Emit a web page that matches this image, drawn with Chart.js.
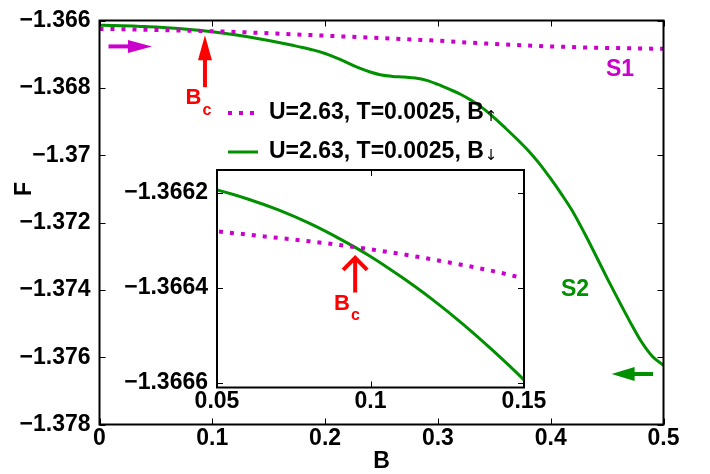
<!DOCTYPE html>
<html><head><meta charset="utf-8">
<script src="https://cdn.jsdelivr.net/npm/chart.js@4"></script>
<style>
html,body{margin:0;padding:0;background:#fff;}
#wrap{position:relative;width:710px;height:474px;background:#fff;}
#wrap canvas{position:absolute;left:0;top:0;}
#inset{pointer-events:none;}
</style></head><body>
<div id="wrap"><canvas id="main" width="710" height="474"></canvas><canvas id="inset" width="710" height="474"></canvas></div>
<script>
// ---- data ----
const fieldB = [0.00,0.01,0.02,0.03,0.04,0.05,0.06,0.07,0.08,0.09,0.10,0.11,0.12,0.13,0.14,0.15,0.16,0.17,0.18,0.19,0.20,0.21,0.22,0.23,0.24,0.25,0.26,0.27,0.28,0.29,0.30,0.31,0.32,0.33,0.34,0.35,0.36,0.37,0.38,0.39,0.40,0.41,0.42,0.43,0.44,0.45,0.46,0.47,0.48,0.49,0.50];
const freeEnergyUp = [-1.36625,-1.366254,-1.366259,-1.366265,-1.366272,-1.366281,-1.366288,-1.366295,-1.366302,-1.36631,-1.366319,-1.366329,-1.36634,-1.366352,-1.366365,-1.36638,-1.366394,-1.366408,-1.366422,-1.366436,-1.36645,-1.366465,-1.36648,-1.366495,-1.36651,-1.366525,-1.36654,-1.366555,-1.36657,-1.366585,-1.3666,-1.36662,-1.36664,-1.36666,-1.36668,-1.3667,-1.366715,-1.36673,-1.366745,-1.36676,-1.36677,-1.36678,-1.36679,-1.3668,-1.366808,-1.366815,-1.36682,-1.366826,-1.366831,-1.366836,-1.36684];
const freeEnergyDown = [-1.36614,-1.366147,-1.366155,-1.366166,-1.36618,-1.366194,-1.366213,-1.366236,-1.366264,-1.366297,-1.366334,-1.366377,-1.366424,-1.366476,-1.366533,-1.366594,-1.36666,-1.36673,-1.3668,-1.36688,-1.36698,-1.36711,-1.36726,-1.36741,-1.36753,-1.36762,-1.36766,-1.36768,-1.36771,-1.36778,-1.3679,-1.36804,-1.36819,-1.36838,-1.36861,-1.36889,-1.3692,-1.36952,-1.36986,-1.37025,-1.3707,-1.37118,-1.3717,-1.37232,-1.37298,-1.37365,-1.3743,-1.37493,-1.37552,-1.37597,-1.37624];
const seriesLabels = ['U=2.63, T=0.0025, B', 'U=2.63, T=0.0025, B'];
const seriesSubscripts = ['\u2191', '\u2193'];
const mainXTicks = [0, 0.1, 0.2, 0.3, 0.4, 0.5];
const mainXTickLabels = ['0', '0.1', '0.2', '0.3', '0.4', '0.5'];
const mainYTicks = [-1.378, -1.376, -1.374, -1.372, -1.37, -1.368, -1.366];
const mainYTickLabels = ['\u22121.378', '\u22121.376', '\u22121.374', '\u22121.372', '\u22121.37', '\u22121.368', '\u22121.366'];
const insetXTicks = [0.05, 0.1, 0.15];
const insetXTickLabels = ['0.05', '0.1', '0.15'];
const insetYTicks = [-1.3666, -1.3664, -1.3662];
const insetYTickLabels = ['\u22121.3666', '\u22121.3664', '\u22121.3662'];

// ---- styling ----
const MAG = '#cc00cc', GRN = '#009000', RED = '#ff0000';
const FONT = '"Liberation Sans", Arial, Helvetica, sans-serif';
const tickFont = {family: FONT, size: 23, weight: 'bold', lineHeight: 1};

function pts(ys) { return fieldB.map((b, i) => ({x: b, y: ys[i]})); }

function makeDatasets(clip) {
  return [
    {label: seriesLabels[0] + seriesSubscripts[0], data: pts(freeEnergyUp), borderColor: MAG, borderWidth: 4,
     borderDash: [4, 7], borderCapStyle: 'butt', pointRadius: 0, cubicInterpolationMode: 'monotone', clip: clip},
    {label: seriesLabels[1] + seriesSubscripts[1], data: pts(freeEnergyDown), borderColor: GRN, borderWidth: 3,
     pointRadius: 0, cubicInterpolationMode: 'monotone', clip: clip}
  ];
}

function frameAndTicks(chart, xt, yt, len) {
  const {ctx, chartArea: a, scales: {x, y}} = chart;
  ctx.save();
  ctx.strokeStyle = '#000';
  ctx.lineWidth = 1;
  ctx.beginPath();
  xt.forEach(v => {
    const p = Math.round(x.getPixelForValue(v)) + 0.5;
    ctx.moveTo(p, a.bottom); ctx.lineTo(p, a.bottom - len);
    ctx.moveTo(p, a.top); ctx.lineTo(p, a.top + len);
  });
  yt.forEach(v => {
    const p = Math.round(y.getPixelForValue(v)) + 0.5;
    ctx.moveTo(a.left, p); ctx.lineTo(a.left + len, p);
    ctx.moveTo(a.right, p); ctx.lineTo(a.right - len, p);
  });
  ctx.stroke();
  ctx.lineWidth = 2;
  ctx.strokeRect(a.left, a.top, a.right - a.left, a.bottom - a.top);
  ctx.restore();
}

function filledArrow(ctx, x1, y1, x2, y2, color, shaftW, headLen, headHalf) {
  const ang = Math.atan2(y2 - y1, x2 - x1);
  const bx = x2 - headLen * Math.cos(ang), by = y2 - headLen * Math.sin(ang);
  ctx.save();
  ctx.strokeStyle = color; ctx.fillStyle = color;
  ctx.lineWidth = shaftW; ctx.lineCap = 'butt';
  ctx.beginPath(); ctx.moveTo(x1, y1); ctx.lineTo(bx + 2 * Math.cos(ang), by + 2 * Math.sin(ang)); ctx.stroke();
  ctx.beginPath();
  ctx.moveTo(x2, y2);
  ctx.lineTo(bx - headHalf * Math.sin(ang), by + headHalf * Math.cos(ang));
  ctx.lineTo(bx + headHalf * Math.sin(ang), by - headHalf * Math.cos(ang));
  ctx.closePath(); ctx.fill();
  ctx.restore();
}

function subLabel(ctx, cx, cy, main, sub, color, size, subSize) {
  ctx.save();
  ctx.fillStyle = color;
  ctx.textBaseline = 'middle';
  ctx.textAlign = 'center';
  ctx.font = 'bold ' + size + 'px ' + FONT;
  ctx.fillText(main, cx, cy);
  const w = ctx.measureText(main).width;
  ctx.font = 'bold ' + subSize + 'px ' + FONT;
  ctx.textAlign = 'left';
  ctx.fillText(sub, cx + w / 2 + 1, cy + 12);
  ctx.restore();
}

const mainPlugin = {
  id: 'mainDecor',
  afterDraw(chart) {
    const {ctx, chartArea: a, scales: {x, y}} = chart;
    frameAndTicks(chart, mainXTicks, mainYTicks, 6);
    // legend
    ctx.save();
    const rows = [{y: 113, color: MAG, dash: [4, 7], w: 4}, {y: 152, color: GRN, dash: [], w: 3}];
    rows.forEach((r, i) => {
      ctx.save();
      ctx.strokeStyle = r.color; ctx.lineWidth = r.w; ctx.setLineDash(r.dash); ctx.lineCap = 'butt';
      ctx.beginPath(); ctx.moveTo(228, r.y); ctx.lineTo(258, r.y); ctx.stroke();
      ctx.restore();
      ctx.fillStyle = '#000'; ctx.textBaseline = 'middle'; ctx.textAlign = 'left';
      ctx.font = 'bold 23px ' + FONT;
      ctx.fillText(seriesLabels[i], 269, r.y);
      const w = ctx.measureText(seriesLabels[i]).width;
      ctx.font = '15px "DejaVu Sans", sans-serif';
      ctx.fillText(seriesSubscripts[i], 269 + w + 1, r.y + 4);
    });
    ctx.restore();
    // annotations (data coordinates)
    const X = v => x.getPixelForValue(v), Y = v => y.getPixelForValue(v);
    filledArrow(ctx, X(0.0935), Y(-1.36798), X(0.0935), Y(-1.36644), RED, 4, 25, 7);
    subLabel(ctx, X(0.0833), Y(-1.36831), 'B', 'c', RED, 22, 16);
    filledArrow(ctx, X(0.008), Y(-1.36677), X(0.0465), Y(-1.36677), MAG, 4, 24, 6.5);
    filledArrow(ctx, X(0.4907), Y(-1.3765), X(0.454), Y(-1.3765), GRN, 4, 23, 7);
    ctx.save();
    ctx.font = 'bold 23px ' + FONT; ctx.textAlign = 'center'; ctx.textBaseline = 'middle';
    ctx.fillStyle = MAG; ctx.fillText('S1', X(0.4614), Y(-1.36746));
    ctx.fillStyle = GRN; ctx.fillText('S2', X(0.4215), Y(-1.374));
    // y axis title
    ctx.fillStyle = '#000'; ctx.font = 'bold 23px ' + FONT;
    ctx.translate(25, 189); ctx.rotate(-Math.PI / 2); ctx.fillText('F', 0, 0);
    ctx.restore();
  }
};

const insetPlugin = {
  id: 'insetDecor',
  beforeDatasetsDraw(chart) {
    const {ctx, chartArea: a} = chart;
    ctx.save(); ctx.fillStyle = '#fff'; ctx.fillRect(a.left, a.top, a.right - a.left, a.bottom - a.top); ctx.restore();
  },
  afterDraw(chart) {
    const {ctx, scales: {x, y}} = chart;
    frameAndTicks(chart, insetXTicks, insetYTicks, 6);
    const X = v => x.getPixelForValue(v), Y = v => y.getPixelForValue(v);
    const tx = X(0.095), ty = Y(-1.366335), by = Y(-1.36641);
    ctx.save();
    ctx.strokeStyle = RED; ctx.lineWidth = 4; ctx.lineCap = 'butt'; ctx.lineJoin = 'miter';
    ctx.beginPath(); ctx.moveTo(tx - 12, ty + 13); ctx.lineTo(tx, ty + 1); ctx.lineTo(tx + 12, ty + 13); ctx.stroke();
    ctx.beginPath(); ctx.moveTo(tx, ty + 2); ctx.lineTo(tx, by); ctx.stroke();
    ctx.restore();
    subLabel(ctx, X(0.0907), Y(-1.366433), 'B', 'c', RED, 22, 16);
  }
};

function axisCommon(ticksArr, labelsArr, pad) {
  return {
    grid: {display: false, drawTicks: false},
    border: {display: false},
    afterBuildTicks: s => { s.ticks = ticksArr.map(v => ({value: v})); },
    ticks: {font: tickFont, color: '#000', padding: pad, autoSkip: false, maxRotation: 0,
            callback: (v, i) => labelsArr[i]}
  };
}

new Chart(document.getElementById('main'), {
  type: 'line',
  data: {datasets: makeDatasets(undefined)},
  plugins: [mainPlugin],
  options: {
    responsive: false, animation: false, events: [],
    layout: {padding: {left: 0, top: 12, right: 46.5, bottom: 0}},
    plugins: {legend: {display: false}, tooltip: {enabled: false}},
    scales: {
      x: Object.assign(axisCommon(mainXTicks, mainXTickLabels, 3), {
        type: 'linear', min: 0, max: 0.5,
        title: {display: true, text: 'B', color: '#000', font: {family: FONT, size: 23, weight: 'bold', lineHeight: 1}, padding: {top: 0, bottom: 1}},
        afterFit: s => { s.height = 49.5; }
      }),
      y: Object.assign(axisCommon(mainYTicks, mainYTickLabels, 9), {
        type: 'linear', min: -1.378, max: -1.366,
        afterFit: s => { s.width = 99.5; }
      })
    }
  }
});

new Chart(document.getElementById('inset'), {
  type: 'line',
  data: {datasets: makeDatasets(0)},
  plugins: [insetPlugin],
  options: {
    responsive: false, animation: false, events: [],
    layout: {padding: {left: 117, top: 170, right: 186, bottom: 56.5}},
    plugins: {legend: {display: false}, tooltip: {enabled: false}},
    scales: {
      x: Object.assign(axisCommon(insetXTicks, insetXTickLabels, 2.5), {
        type: 'linear', min: 0.05, max: 0.15,
        afterFit: s => { s.height = 30; }
      }),
      y: Object.assign(axisCommon(insetYTicks, insetYTickLabels, 9), {
        type: 'linear', min: -1.36661, max: -1.366152,
        afterFit: s => { s.width = 100; }
      })
    }
  }
});
</script>
</body></html>
